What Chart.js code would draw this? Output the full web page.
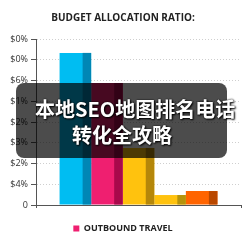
<!DOCTYPE html>
<html>
<head>
<meta charset="utf-8">
<script src="https://cdn.jsdelivr.net/npm/chart.js@4/dist/chart.umd.min.js"></script>
<style>
  html, body { margin: 0; padding: 0; background: #fff; }
  #wrap { position: relative; width: 243px; height: 243px; }
  #overlay {
    position: absolute; left: 16px; top: 83px; width: 211px; height: 75px;
    background: rgba(0, 0, 0, 0.7); border-radius: 8px; z-index: 2;
  }
  .line {
    position: absolute; white-space: nowrap; color: #fff; z-index: 3;
    font-family: "Noto Sans CJK SC", sans-serif; font-weight: bold;
    font-size: 20px; line-height: 26px;
    text-shadow: 1px 1px 2px #000, 0 0 2px #000;
  }
</style>
</head>
<body>
<div id="wrap">
  <canvas id="myChart"></canvas>
  <div id="overlay"></div>
  <div class="line" style="left:35px; top:96px;">本地SEO地图排名电话</div>
  <div class="line" style="left:72px; top:122px;">转化全攻略</div>
</div>
<script>
// Données du graphique
const categories = ['Budget'];
const seriesNames = ['Accommodation', 'Outbound travel', 'Transport', 'Food', 'Other'];
const seriesValues = [7.33, 5.88, 2.75, 0.48, 0.67];
const tickLabels = ['0', '$4%', '$2%', '$3%', '$2%', '$1%', '$6%', '$0%', '$0%'];

const frontColors = ['#00bdf2', '#ef1f70', '#ffc20e', '#ffc20e', '#ff6400'];
const sideColors = ['#0087b5', '#a8094b', '#b5870a', '#b5930c', '#b94800'];

// Face latérale plus sombre pour l'effet 3D
const sidePlugin = {
  id: 'sidePlugin',
  afterDatasetsDraw(chart) {
    const ctx = chart.ctx;
    chart.data.datasets.forEach((ds, i) => {
      const meta = chart.getDatasetMeta(i);
      meta.data.forEach(bar => {
        const sideW = bar.width * 0.27;
        const right = bar.x + bar.width / 2;
        ctx.save();
        ctx.fillStyle = sideColors[i];
        ctx.fillRect(right - sideW, bar.y, sideW, bar.base - bar.y);
        ctx.restore();
      });
    });
  }
};

const ctx = document.getElementById('myChart').getContext('2d');
const myChart = new Chart(ctx, {
  type: 'bar',
  data: {
    labels: categories,
    datasets: seriesNames.map((name, i) => ({
      label: name.toUpperCase(),
      data: [seriesValues[i]],
      backgroundColor: frontColors[i],
      borderWidth: 0
    }))
  },
  options: {
    responsive: true,
    maintainAspectRatio: false,
    animation: false,
    layout: { padding: { left: 5, right: 2, top: 0, bottom: 0 } },
    datasets: { bar: { barPercentage: 1, categoryPercentage: 0.77 } },
    plugins: {
      title: {
        display: true,
        text: 'BUDGET ALLOCATION RATIO:',
        color: '#222',
        font: { family: 'Open Sans', size: 10, weight: 'bold' },
        padding: { top: 12, bottom: 15 }
      },
      legend: {
        position: 'bottom',
        labels: {
          filter: item => item.datasetIndex === 1,
          boxWidth: 6,
          boxHeight: 6,
          padding: 8,
          color: '#222',
          font: { family: 'Open Sans', size: 9, weight: 'bold' }
        }
      },
      tooltip: { enabled: false }
    },
    scales: {
      x: {
        afterFit: scale => { scale.height += 8; },
        ticks: { display: false },
        grid: { display: true, drawOnChartArea: false, tickLength: 3, tickColor: '#555' },
        border: { display: true, color: '#555', width: 1 }
      },
      y: {
        min: 0,
        max: 8,
        afterFit: scale => { scale.width = 31; },
        ticks: {
          stepSize: 1,
          color: '#333',
          padding: 3,
          font: { family: 'Open Sans', size: 9 },
          callback: (value, index) => tickLabels[index]
        },
        grid: { color: '#cfcfcf', tickLength: 5, tickColor: '#555', tickBorderDash: [] },
        border: { display: true, color: '#555', width: 1, dash: [1, 2] }
      }
    }
  },
  plugins: [sidePlugin]
});
</script>
</body>
</html>
